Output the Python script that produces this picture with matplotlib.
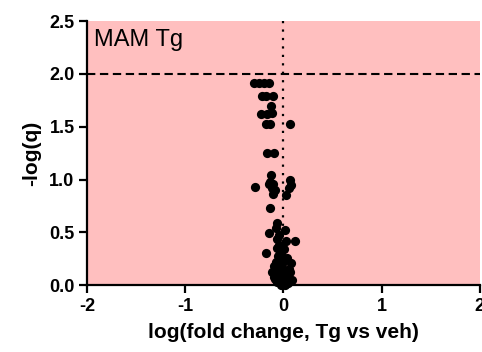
import numpy as np
import matplotlib.pyplot as plt

plt.rcParams['font.family'] = ['Liberation Sans', 'DejaVu Sans']

# log fold change / -log(q)
fc = [-0.30, -0.25, -0.20, -0.15,
      -0.22, -0.18, -0.11,
      -0.13,
      -0.23, -0.17, -0.12,
      -0.18, -0.14, 0.07,
      -0.17, -0.10,
      -0.13, -0.14, -0.11, 0.07, 0.08,
      -0.29, -0.15, -0.12, -0.09, -0.11, 0.03, 0.06,
      -0.14,
      -0.07, -0.15, -0.08, 0.02, 0.03, 0.12, -0.07, -0.07,
      -0.18,
      -0.05, -0.03, -0.06, -0.02, -0.08, 0.00, -0.10, 0.08, -0.04,
      0.07, -0.12, -0.06, 0.00, 0.05, -0.09, -0.03, 0.03, 0.09,
      -0.07, 0.00, 0.05, -0.02, 0.02, -0.05, -0.01, 0.04,
      -0.04, -0.02, -0.05, 0.01, -0.10, 0.06, -0.03, 0.02, -0.08, 0.04, -0.01]
nlogq = [1.91, 1.91, 1.91, 1.91,
         1.79, 1.79, 1.79,
         1.70,
         1.62, 1.62, 1.63,
         1.53, 1.53, 1.53,
         1.25, 1.25,
         1.04, 0.98, 0.96, 1.00, 0.95,
         0.93, 0.96, 0.92, 0.90, 0.86, 0.85, 0.92,
         0.73,
         0.59, 0.49, 0.54, 0.52, 0.42, 0.42, 0.44, 0.35,
         0.30,
         0.38, 0.33, 0.28, 0.25, 0.22, 0.22, 0.18, 0.21, 0.17,
         0.12, 0.12, 0.10, 0.14, 0.10, 0.06, 0.06, 0.06, 0.05,
         0.03, 0.03, 0.02, 0.00, 0.00, 0.09, 0.16, 0.26,
         0.47, 0.30, 0.20, 0.34, 0.08, 0.15, 0.12, 0.11, 0.15, 0.02, 0.07]

fig = plt.figure(figsize=(4.82, 3.52), dpi=100)
ax = fig.add_axes([0.1805, 0.19, 0.815, 0.75])
ax.set_facecolor('#FFBFBF')

ax.axhline(2.0, color='black', lw=1.5, ls=(0, (4, 2.2)), zorder=2)
ax.axvline(0.0, color='black', lw=1.6, ls=(0, (1, 2.8)), zorder=2)
ax.scatter(fc, nlogq, s=44, color='black', zorder=3, clip_on=False, linewidths=0)

ax.set_xlim(-2, 2)
ax.set_ylim(0, 2.5)
ax.set_xticks([-2, -1, 0, 1, 2])
ax.set_xticklabels(['-2', '-1', '0', '1', '2'])
ax.set_yticks(np.arange(0, 2.51, 0.5))
ax.set_yticklabels(['0.0', '0.5', '1.0', '1.5', '2.0', '2.5'])

for s in ['top', 'right']:
    ax.spines[s].set_visible(False)
for s in ['left', 'bottom']:
    ax.spines[s].set_linewidth(1.6)
ax.tick_params(width=1.6, length=6, labelsize=13, pad=3)
for lab in ax.get_xticklabels() + ax.get_yticklabels():
    lab.set_fontweight('bold')

ax.set_xlabel('log(fold change, Tg vs veh)', fontsize=15, fontweight='bold', labelpad=6)
ax.set_ylabel('-log(q)', fontsize=15, fontweight='bold', labelpad=6)
ax.text(-1.93, 2.43, 'MAM Tg', fontsize=17, va='top', ha='left')

plt.savefig('out.png', dpi=100)
